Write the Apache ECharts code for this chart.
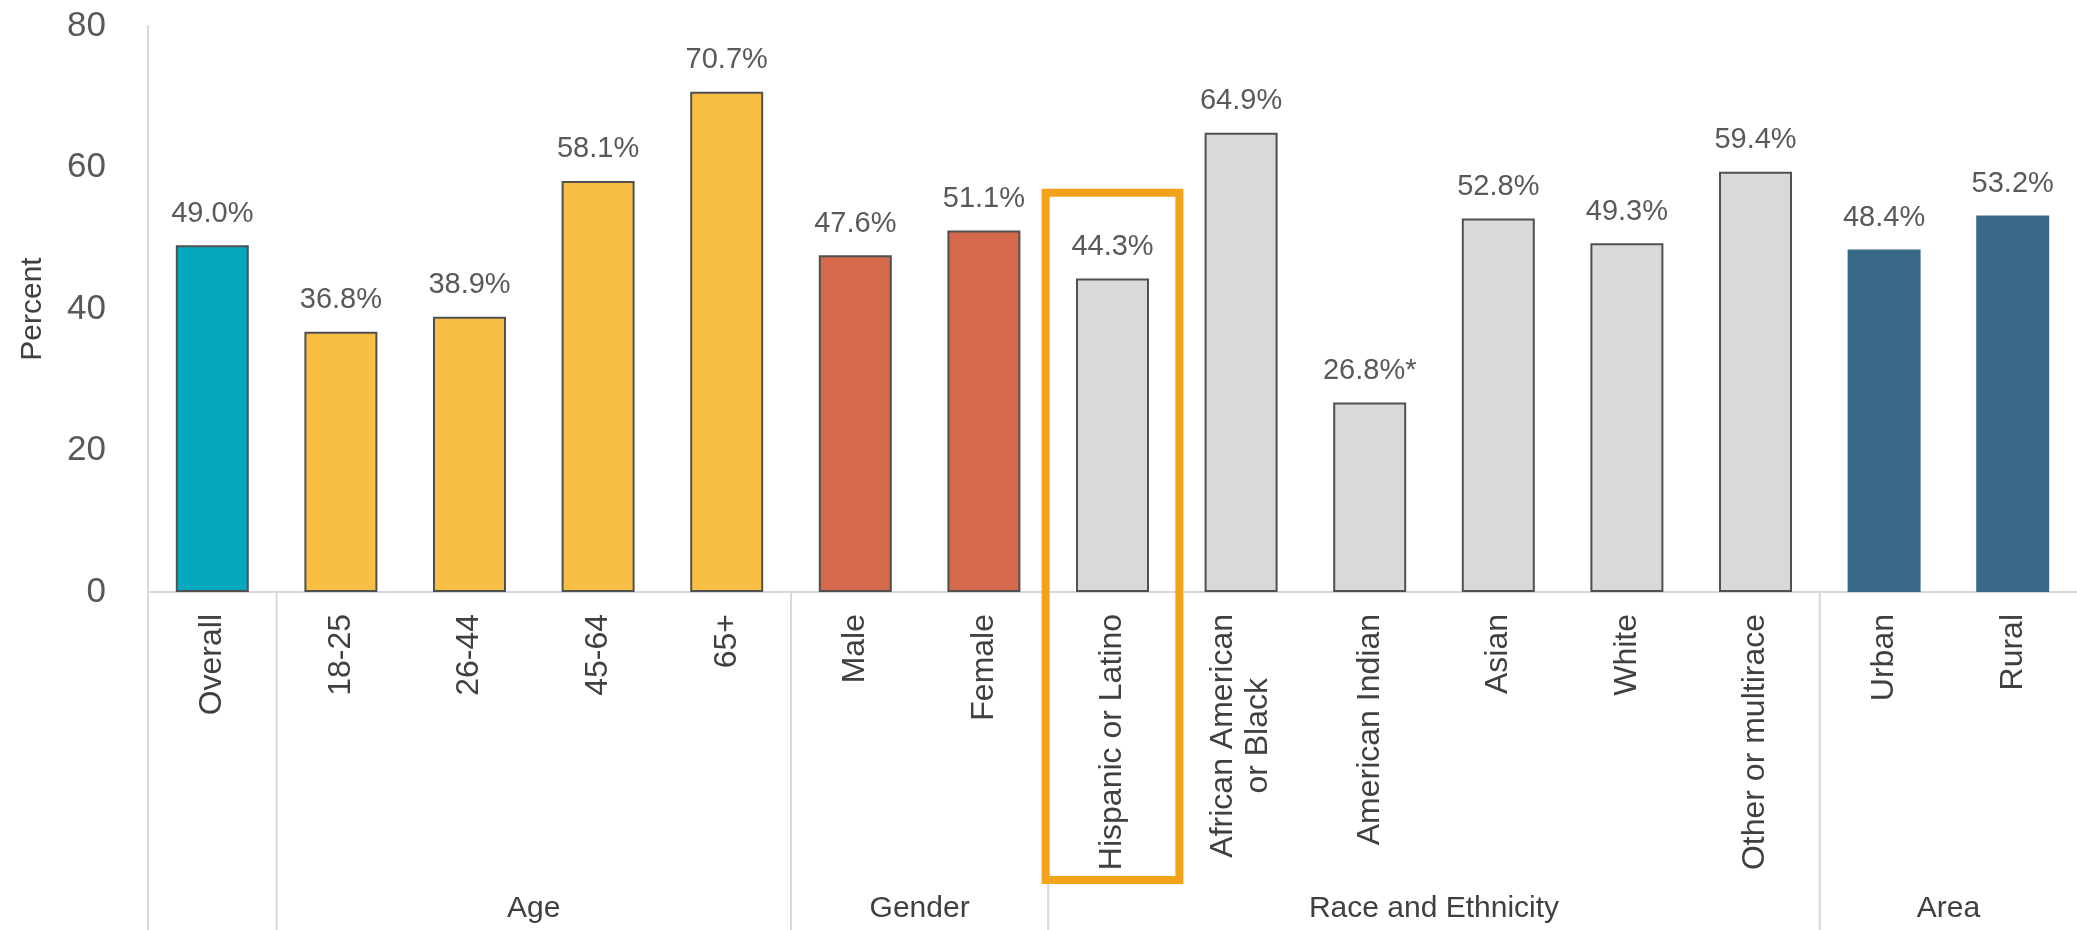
<!DOCTYPE html>
<html>
<head>
<meta charset="utf-8">
<title>Percent by group</title>
<script src="https://cdn.jsdelivr.net/npm/echarts@6/dist/echarts.min.js"></script>
<style>
  html, body { margin: 0; padding: 0; background: #fff; }
  #main { width: 2077px; height: 930px; }
</style>
</head>
<body>
<div id="main"></div>
<script>
// data
const categories = ['Overall', '18-25', '26-44', '45-64', '65+', 'Male', 'Female',
  'Hispanic or Latino', 'African American\nor Black', 'American Indian', 'Asian', 'White',
  'Other or multirace', 'Urban', 'Rural'];
const values = [49.0, 36.8, 38.9, 58.1, 70.7, 47.6, 51.1, 44.3, 64.9, 26.8, 52.8, 49.3, 59.4, 48.4, 53.2];
const footnotes = ['', '', '', '', '', '', '', '', '', '*', '', '', '', '', ''];
const groupNames = ['', 'Age', 'Gender', 'Race and Ethnicity', 'Area'];
const groupSizes = [1, 4, 2, 6, 2];
const highlighted = 'Hispanic or Latino';

// styles
const groupColors = ['#06A8C0', '#F8BF44', '#D4694B', '#D9D9D9', '#386A87'];
const groupBorders = ['#505050', '#505050', '#505050', '#505050', '#386A87'];
const font = 'Liberation Sans';

// group index for every bar
const groupOf = [];
groupSizes.forEach((n, g) => { for (let i = 0; i < n; i++) groupOf.push(g); });

var chart = echarts.init(document.getElementById('main'));
chart.setOption({
  animation: false,
  grid: { left: 148, top: 26, width: 1937, height: 566 },
  xAxis: {
    type: 'category',
    data: categories,
    axisLine: { lineStyle: { color: '#D9D9D9', width: 2 } },
    axisTick: { show: false },
    axisLabel: {
      interval: 0,
      rotate: 90,
      margin: 22,
      fontSize: 32,
      fontFamily: font,
      color: '#404040',
      formatter: v => v.split('\n').map(s => '{c|' + s + '}').join('\n'),
      rich: { c: { align: 'center', fontSize: 32, fontFamily: font, color: '#404040', lineHeight: 35 } }
    }
  },
  yAxis: {
    type: 'value',
    min: 0,
    max: 80,
    interval: 20,
    name: 'Percent',
    nameLocation: 'middle',
    nameGap: 100,
    nameTextStyle: { fontSize: 30, fontFamily: font, color: '#404040' },
    axisLine: { show: true, lineStyle: { color: '#D9D9D9', width: 2 } },
    axisTick: { show: false },
    splitLine: { show: false },
    axisLabel: { fontSize: 35, fontFamily: font, color: '#595959', margin: 42 }
  },
  series: [{
    type: 'bar',
    barWidth: 73,
    data: values.map((v, i) => ({
      value: v,
      itemStyle: { color: groupColors[groupOf[i]], borderColor: groupBorders[groupOf[i]], borderWidth: 2 }
    })),
    label: {
      show: true,
      position: 'top',
      distance: 17,
      fontSize: 29,
      fontFamily: font,
      color: '#595959',
      formatter: p => p.value.toFixed(1) + '%' + footnotes[p.dataIndex]
    }
  }]
});

// group separators, group names and the highlight box
const x0 = chart.convertToPixel({ xAxisIndex: 0 }, 0);
const band = chart.convertToPixel({ xAxisIndex: 0 }, 1) - x0;
const axisY = chart.convertToPixel({ yAxisIndex: 0 }, 0);
const graphics = [];
let start = 0;
groupSizes.forEach((n, g) => {
  const left = x0 - band / 2 + start * band;
  graphics.push({ type: 'line', shape: { x1: left, y1: axisY, x2: left, y2: 930 },
    style: { stroke: '#D9D9D9', lineWidth: 2 } });
  if (groupNames[g]) {
    graphics.push({ type: 'text', x: left + n * band / 2, y: axisY + 317,
      style: { text: groupNames[g], fontSize: 30, fontFamily: font, fill: '#404040', align: 'center', verticalAlign: 'middle' } });
  }
  start += n;
});
const hx = chart.convertToPixel({ xAxisIndex: 0 }, categories.indexOf(highlighted));
const boxTop = chart.convertToPixel({ yAxisIndex: 0 }, 57);
graphics.push({ type: 'rect', z: 10,
  shape: { x: hx - band * 0.52, y: boxTop + 4, width: band * 1.04, height: axisY + 288 - boxTop - 4 },
  style: { fill: 'none', stroke: '#F2A31B', lineWidth: 8 } });
chart.setOption({ graphic: graphics });
</script>
</body>
</html>
